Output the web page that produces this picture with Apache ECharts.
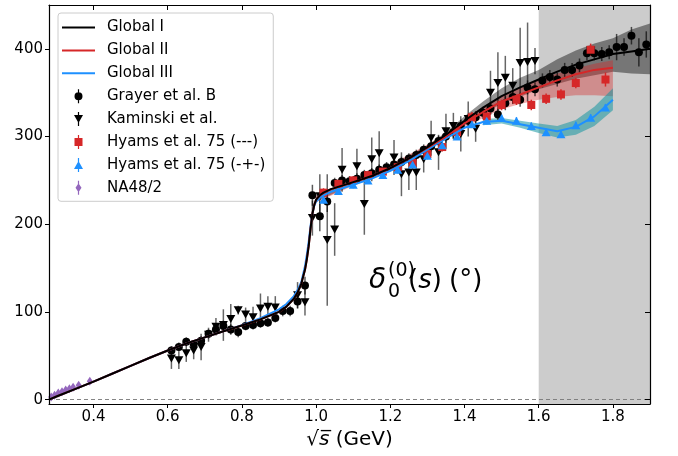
<!DOCTYPE html>
<html><head><meta charset="utf-8">
<script src="https://cdn.jsdelivr.net/npm/echarts@6/dist/echarts.min.js"></script>
<style>html,body{margin:0;padding:0;background:#fff}#c{width:678px;height:456px}</style>
</head><body><div id="c"></div>
<script>
// ---------------- data ----------------
const xTicks = [0.4, 0.6, 0.8, 1.0, 1.2, 1.4, 1.6, 1.8];
const yTicks = [0, 100, 200, 300, 400];

const curveX = [0.28,0.3,0.35,0.4,0.45,0.5,0.55,0.6,0.65,0.7,0.75,0.8,0.85,0.9,0.92,0.94,0.95,0.96,0.97,0.975,0.98,0.985,0.99,0.995,1.0,1.01,1.02,1.04,1.07,1.1,1.15,1.2,1.25,1.3,1.35,1.4,1.45,1.5,1.55,1.6,1.65,1.7,1.75,1.8,1.85,1.9];
const globalI   = [0,3.5,12,20.5,29.5,38.5,47.5,56,64,71,78,84.5,91.5,100,106,115,122,132,148,160,175,195,212,222,228,233,236,240,244,248,255,264,275,288,302,318,333,346,356,365,374,382,388,394,397,400];
const globalII  = [0,3.5,12,20.5,29.5,38.5,47.5,56,64,71,78,84.5,91.5,100,106,115,122,132,148,160,175,195,212,222,228,233,236,240,244,248,255,264,275,287,300,315,328,340,348,356,364,371,376,378.5,null,null];
const globalIII = [0,3.5,12,20.5,29.5,38.5,47.5,56,64,71,78,85,93,103,109,118,125,134,152,165,180,198,212,221,226,230,233,237,241,245,252,261,272,285,298,310,316.5,318,314,310,306,311,323,342,null,null];

const bandIX    = [1.0,1.1,1.2,1.3,1.35,1.4,1.45,1.5,1.55,1.6,1.65,1.7,1.75,1.8,1.85,1.9];
const bandILow  = [226,245,261,286,299,313,326,337,345,354,360,366,370,374,372,371];
const bandIHigh = [231,251,267,290,305,323,340,355,367,376,388,398,406,412,422,429];
const bandIIX    = [1.0,1.1,1.2,1.3,1.35,1.4,1.45,1.5,1.55,1.6,1.65,1.7,1.75,1.8];
const bandIILow  = [225,244,260,284,297,311,321,331,337,342,345,347,347,346];
const bandIIHigh = [232,252,268,291,303,319,333,346,356,365,372,378,383,387];
const bandIIIX    = [1.45,1.5,1.55,1.6,1.65,1.7,1.75,1.8];
const bandIIILow  = [313,315,310,304,299,302,312,330];
const bandIIIHigh = [320,321,318,315,312,319,334,355];

const grayerX = [0.61,0.63,0.65,0.67,0.69,0.71,0.73,0.75,0.77,0.79,0.81,0.83,0.85,0.87,0.89,0.91,0.93,0.95,0.97,0.99,1.01,1.03,1.05,1.07,1.09,1.11,1.13,1.15,1.17,1.19,1.21,1.23,1.25,1.27,1.29,1.31,1.33,1.35,1.37,1.39,1.41,1.43,1.45,1.47,1.49,1.51,1.53,1.55,1.57,1.59,1.61,1.63,1.65,1.67,1.69,1.71,1.73,1.75,1.77,1.79,1.81,1.83,1.85,1.87,1.89];
const grayerY = [56,60,66,63,67,75,80,84,80,77,84,85,87,88,93,101,101,112,130,233,209,226,247,250,249,252,256,258,262,265,268,271,275,279,285,289,295,300,305,312,318,322,327,332,325,338,345,342,356,354,364,368,365,376,376,381,395,395,394,396,402,402,415,396,405];
const grayerErr = [5,5,5,5,5,5,6,6,6,6,5,5,5,5,5,6,6,8,10,12,17,12,6,6,6,6,6,6,6,6,6,6,6,6,6,6,6,7,7,7,7,7,7,7,7,8,8,8,8,8,8,8,8,8,8,8,8,8,8,8,15,10,10,16,15];

const kamX = [0.61,0.63,0.65,0.67,0.69,0.71,0.73,0.75,0.77,0.79,0.81,0.83,0.85,0.87,0.89,0.95,0.97,0.99,1.01,1.03,1.05,1.07,1.11,1.13,1.15,1.17,1.21,1.23,1.25,1.27,1.29,1.31,1.33,1.35,1.37,1.39,1.41,1.43,1.47,1.49,1.51,1.53,1.55,1.57,1.59];
const kamY = [47,45,53,56,60,74,83,85,92,102,97,94,104,106,105,119,111,207,232,182,194,262,266,223,274,281,276,257,259,259,274,298,282,306,312,303,320,309,350,361,367,358,384,385,386];
const kamErr = [12,10,10,10,15,8,10,18,17,5,8,12,17,12,13,15,15,20,25,75,30,25,20,35,25,25,20,25,20,20,15,20,20,20,15,20,20,15,25,35,25,20,40,45,15];

const hyamsX = [1.02,1.06,1.10,1.14,1.18,1.22,1.26,1.30,1.34,1.38,1.42,1.46,1.50,1.54,1.58,1.62,1.66,1.70,1.74,1.78];
const hyamsMinusY   = [236,246,250,256,260,265,270,280,288,305,322,323,336,342,336,343,348,361,399,365];
const hyamsMinusErr = [5,5,5,5,5,5,5,5,5,5,6,6,6,6,6,6,6,6,7,8];
const hyamsPlusY    = [228,238,245,250,256,262,268,278,290,300,314,318,321,318,312,305,302.6,313,321.5,333];
const hyamsPlusErr  = [4,4,4,4,4,4,4,4,4,4,4,4,4,4,4,4,4,4,4,4];

const naX = [0.286,0.295,0.305,0.315,0.325,0.335,0.345,0.36,0.39];
const naY = [3,5,7.5,9,11,12.5,14,16.5,21];
const naErr = [1.5,1.5,1.5,2,2,2,2,2.5,3];

// ---------------- helpers ----------------
const FONT = 'DejaVu Sans';
const BLACK = '#000000', RED = '#d62728', BLUE = '#1e90ff', PURPLE = '#9467bd';

function pairs(xs, ys) { const out = []; for (let i = 0; i < xs.length; i++) if (ys[i] != null) out.push([xs[i], ys[i]]); return out; }
function triples(xs, ys, es) { return xs.map((x, i) => [x, ys[i], es[i]]); }

function errSeries(xs, ys, es, color, z) {
  return {
    type: 'custom', z: z, silent: true, data: triples(xs, ys, es),
    renderItem: function (params, api) {
      const x = api.value(0), y = api.value(1), e = api.value(2);
      const p1 = api.coord([x, y - e]), p2 = api.coord([x, y + e]);
      return { type: 'line', shape: { x1: p1[0], y1: p1[1], x2: p2[0], y2: p2[1] }, style: { stroke: color, lineWidth: 1.5 } };
    }
  };
}
function bandSeries(xs, lo, hi, color, z) {
  return {
    type: 'custom', z: z, silent: true, data: xs.map((x, i) => [x, lo[i], hi[i]]),
    renderItem: function (params, api) {
      if (params.dataIndex !== 0) return null;
      const pts = [];
      for (let i = 0; i < xs.length; i++) pts.push(api.coord([xs[i], hi[i]]));
      for (let i = xs.length - 1; i >= 0; i--) pts.push(api.coord([xs[i], lo[i]]));
      return { type: 'polygon', shape: { points: pts, smooth: 0 }, style: { fill: color } };
    }
  };
}
const BAR = 'M4.4,0 L5.6,0 L5.6,14 L4.4,14 Z ';
const ICON_LINE = 'path://M0,0 L33,0 L33,2 L0,2 Z';
const ICON_CIRCLE = 'path://' + BAR + 'M9,7 A4,4 0 1 1 1,7 A4,4 0 1 1 9,7 Z';
const ICON_TRI_DOWN = 'path://' + BAR + 'M0.5,3 L9.5,3 L5,11 Z';
const ICON_SQUARE = 'path://' + BAR + 'M1,3 L9,3 L9,11 L1,11 Z';
const ICON_TRI_UP = 'path://' + BAR + 'M5,3 L9.5,11 L0.5,11 Z';
const ICON_DIAMOND = 'path://' + BAR + 'M5,2.5 L8,7 L5,11.5 L2,7 Z';

const chart = echarts.init(document.getElementById('c'), null, { renderer: 'canvas' });
const spine = { color: '#000', width: 1.2 };

const option = {
  animation: false,
  backgroundColor: '#fff',
  textStyle: { fontFamily: FONT },
  grid: { left: 49, right: 28, top: 5, bottom: 52, containLabel: false },
  xAxis: [
    {
      type: 'value', min: 0.28, max: 1.9, position: 'bottom', z: 10,
      axisLine: { show: true, onZero: false, lineStyle: spine },
      axisTick: { show: true, inside: false, length: 4, customValues: xTicks, lineStyle: { color: '#000', width: 1 } },
      axisLabel: { show: true, customValues: xTicks, formatter: v => Number(v).toFixed(1), fontSize: 15, color: '#000', fontFamily: FONT, margin: 6 },
      splitLine: { show: false },
      name: '√{s|s\u0305} (GeV)', nameLocation: 'middle', nameGap: 24,
      nameTextStyle: { fontSize: 20, color: '#000', fontFamily: FONT, rich: { s: { fontSize: 20, fontStyle: 'italic', fontFamily: FONT, color: '#000' } } }
    },
    {
      type: 'value', min: 0.28, max: 1.9, position: 'top', z: 10,
      axisLine: { show: true, onZero: false, lineStyle: spine },
      axisTick: { show: true, inside: true, length: 5, customValues: xTicks, lineStyle: { color: '#000', width: 1 } },
      axisLabel: { show: false }, splitLine: { show: false }
    }
  ],
  yAxis: [
    {
      type: 'value', min: -5, max: 450, position: 'left', z: 10,
      axisLine: { show: true, onZero: false, lineStyle: spine },
      axisTick: { show: true, inside: false, length: 4, customValues: yTicks, lineStyle: { color: '#000', width: 1 } },
      axisLabel: { show: true, customValues: yTicks, fontSize: 15, color: '#000', fontFamily: FONT, margin: 6 },
      splitLine: { show: false }
    },
    {
      type: 'value', min: -5, max: 450, position: 'right', z: 10,
      axisLine: { show: true, onZero: false, lineStyle: spine },
      axisTick: { show: true, inside: true, length: 5, customValues: yTicks, lineStyle: { color: '#000', width: 1 } },
      axisLabel: { show: false }, splitLine: { show: false }
    }
  ],
  legend: {
    orient: 'vertical', left: 58, top: 13, z: 20,
    itemWidth: 33, itemHeight: 14, itemGap: 7.9,
    padding: [7, 8, 6, 4],
    backgroundColor: 'rgba(255,255,255,0.85)', borderColor: '#cccccc', borderWidth: 1, borderRadius: 3,
    textStyle: { fontSize: 15, fontFamily: FONT, color: '#000', padding: [0, 0, 0, 7], lineHeight: 14, height: 14 },
    selectedMode: false,
    data: [
      { name: 'Global I', icon: ICON_LINE, symbolRotate: 0 },
      { name: 'Global II', icon: ICON_LINE, symbolRotate: 0 },
      { name: 'Global III', icon: ICON_LINE, symbolRotate: 0 },
      { name: 'Grayer et al. B', icon: ICON_CIRCLE, symbolRotate: 0 },
      { name: 'Kaminski et al.', icon: ICON_TRI_DOWN, symbolRotate: 0 },
      { name: 'Hyams et al. 75 (---)', icon: ICON_SQUARE, symbolRotate: 0 },
      { name: 'Hyams et al. 75 (-+-)', icon: ICON_TRI_UP, symbolRotate: 0 },
      { name: 'NA48/2', icon: ICON_DIAMOND, symbolRotate: 0 }
    ]
  },
  graphic: [
    { type: 'text', x: 369, y: 281, z: 30, style: { text: 'δ', font: 'italic 28px "DejaVu Sans"', fill: '#000', verticalAlign: 'middle', align: 'left' } },
    { type: 'text', x: 388, y: 292, z: 30, style: { text: '0', font: '19px "DejaVu Sans"', fill: '#000', verticalAlign: 'middle', align: 'left' } },
    { type: 'text', x: 388, y: 271, z: 30, style: { text: '(0)', font: '19px "DejaVu Sans"', fill: '#000', verticalAlign: 'middle', align: 'left' } },
    { type: 'text', x: 408, y: 281, z: 30, style: { text: '({i|s})', font: '26px "DejaVu Sans"', fill: '#000', verticalAlign: 'middle', align: 'left',
        rich: { i: { font: 'italic 26px "DejaVu Sans"', fill: '#000' } } } },
    { type: 'text', x: 449, y: 281, z: 30, style: { text: '(°)', font: '26px "DejaVu Sans"', fill: '#000', verticalAlign: 'middle', align: 'left' } }
  ],
  series: [
    { type: 'line', name: 'region', data: [], z: 1, silent: true,
      markArea: { silent: true, itemStyle: { color: '#cccccc', opacity: 1 }, data: [[{ xAxis: 1.6 }, { xAxis: 1.9 }]] } },
    { type: 'line', name: 'zero', data: [], z: 2, silent: true,
      markLine: { silent: true, symbol: 'none', label: { show: false }, lineStyle: { color: '#777', type: [4, 3], width: 0.9 }, data: [{ yAxis: 0 }] } },
    bandSeries(bandIX, bandILow, bandIHigh, 'rgba(0,0,0,0.42)', 3),
    bandSeries(bandIIX, bandIILow, bandIIHigh, 'rgba(214,39,40,0.38)', 3),
    bandSeries(bandIIIX, bandIIILow, bandIIIHigh, 'rgba(20,150,160,0.55)', 3),
    errSeries(grayerX, grayerY, grayerErr, 'rgba(0,0,0,0.65)', 4),
    errSeries(kamX, kamY, kamErr, 'rgba(0,0,0,0.6)', 4),
    errSeries(hyamsX, hyamsMinusY, hyamsMinusErr, RED, 4),
    errSeries(hyamsX, hyamsPlusY, hyamsPlusErr, BLUE, 4),
    errSeries(naX, naY, naErr, PURPLE, 4),
    { type: 'scatter', name: 'Grayer et al. B', data: pairs(grayerX, grayerY), symbol: 'circle', symbolSize: 8, itemStyle: { color: BLACK, opacity: 1 }, z: 5, silent: true },
    { type: 'scatter', name: 'Kaminski et al.', data: pairs(kamX, kamY), symbol: 'triangle', symbolRotate: 180, symbolSize: [9, 8], itemStyle: { color: BLACK, opacity: 1 }, z: 5, silent: true },
    { type: 'scatter', name: 'Hyams et al. 75 (---)', data: pairs(hyamsX, hyamsMinusY), symbol: 'rect', symbolSize: 8, itemStyle: { color: RED, opacity: 1 }, z: 5, silent: true },
    { type: 'scatter', name: 'Hyams et al. 75 (-+-)', data: pairs(hyamsX, hyamsPlusY), symbol: 'triangle', symbolSize: [9, 8], itemStyle: { color: BLUE, opacity: 1 }, z: 5, silent: true },
    { type: 'scatter', name: 'NA48/2', data: pairs(naX, naY), symbol: 'diamond', symbolSize: [6, 9], itemStyle: { color: PURPLE, opacity: 1 }, z: 5, silent: true },
    { type: 'line', name: 'Global III', data: pairs(curveX, globalIII), symbol: 'none', showSymbol: false, smooth: false, lineStyle: { color: BLUE, width: 2, join: 'round' }, itemStyle: { color: BLUE }, z: 6, silent: true },
    { type: 'line', name: 'Global II', data: pairs(curveX, globalII), symbol: 'none', showSymbol: false, smooth: false, lineStyle: { color: RED, width: 2, join: 'round' }, itemStyle: { color: RED }, z: 7, silent: true },
    { type: 'line', name: 'Global I', data: pairs(curveX, globalI), symbol: 'none', showSymbol: false, smooth: false, lineStyle: { color: BLACK, width: 2, join: 'round' }, itemStyle: { color: BLACK }, z: 8, silent: true }
  ]
};
chart.setOption(option);
</script>
</body></html>
